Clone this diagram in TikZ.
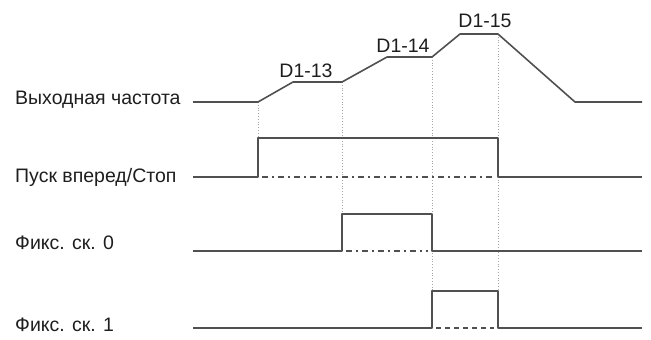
\documentclass[tikz,border=0pt]{standalone}
\usepackage{fontspec}
\setmainfont{Liberation Sans}
\usetikzlibrary{positioning}
\definecolor{sigline}{RGB}{80,80,80}
\definecolor{guidegray}{RGB}{165,165,165}
\definecolor{labeltext}{RGB}{30,30,30}

\begin{document}
\begin{tikzpicture}[x=1pt, y=-1pt,
    sig/.style={draw=sigline, line width=1.6pt, line join=round},
    guide/.style={draw=guidegray, line width=0.8pt, dotted},
    offdashdot/.style={draw=sigline, line width=1.4pt, dash pattern=on 6pt off 4pt on 2pt off 4pt},
    offdashed/.style={draw=sigline, line width=1.4pt, dash pattern=on 5pt off 4pt},
    lbl/.style={anchor=west, text=labeltext, font=\fontsize{19.5}{22}\selectfont, inner sep=0pt},
    stagelbl/.style={text=labeltext, font=\fontsize{19.5}{22}\selectfont, inner sep=0pt}
  ]
    \useasboundingbox (0,0) rectangle (651,340);

    % signal names
    \node (outfreq) [lbl] at (15,100) {Выходная частота};
    \node (runstop) [lbl] at (15,177) {Пуск вперед/Стоп};
    \node (fix0) [lbl] at (15,243) {Фикс. ск. 0};
    \node (fix1) [lbl] at (15,325) {Фикс. ск. 1};

    % speed stages
    \node (d13) [stagelbl] at (306,71) {D1-13};
    \node (d14) [stagelbl] at (403,46) {D1-14};
    \node (d15) [stagelbl] at (485,21) {D1-15};

    % guides
    \draw[guide] (258,102) -- (258,138);
    \draw[guide] (342,82) -- (342,214);
    \draw[guide] (432,57) -- (432,291);
    \draw[guide] (498,34) -- (498,291);

    % output frequency
    \draw[sig] (193,102) -- (258,102) -- (293,82) -- (342,82) -- (387,57)
      -- (432,57) -- (460,34) -- (498,34) -- (575,102) -- (642,102);

    % run / stop
    \draw[sig] (193,177) -- (258,177) -- (258,138) -- (498,138) -- (498,177) -- (642,177);
    \draw[offdashdot] (262,177) -- (494,177);

    % multi-speed 0
    \draw[sig] (193,251) -- (342,251) -- (342,214) -- (432,214) -- (432,251) -- (642,251);
    \draw[offdashdot] (346,251) -- (428,251);

    % multi-speed 1
    \draw[sig] (193,328) -- (432,328) -- (432,291) -- (498,291) -- (498,328) -- (642,328);
    \draw[offdashed] (436,328) -- (494,328);
\end{tikzpicture}
\end{document}
